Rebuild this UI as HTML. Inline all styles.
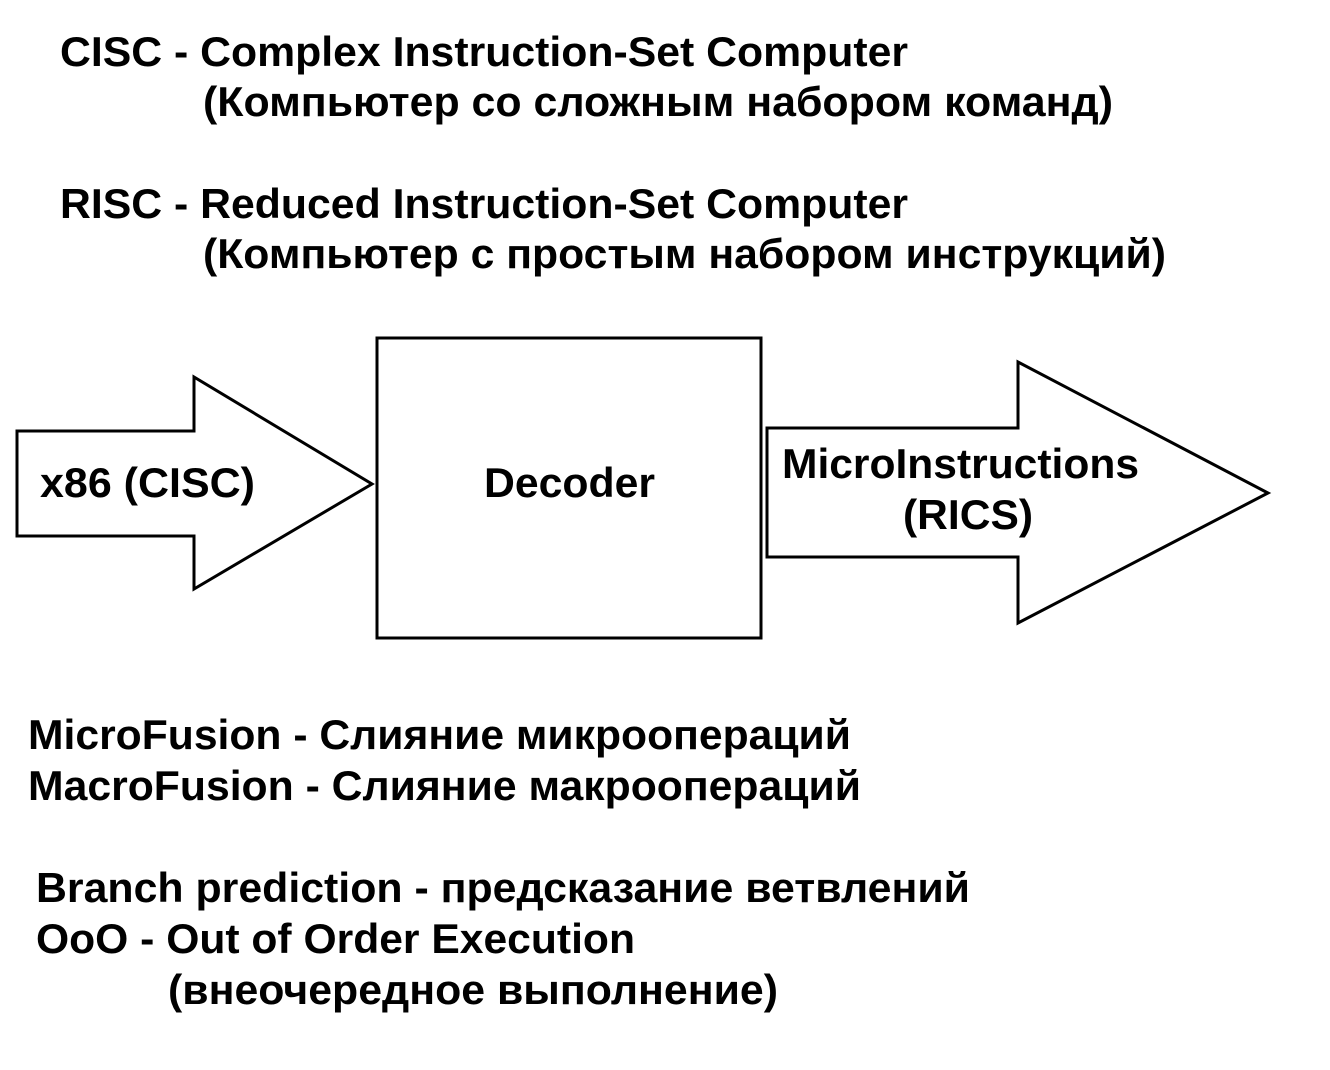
<!DOCTYPE html>
<html>
<head>
<meta charset="utf-8">
<style>
  html,body{margin:0;padding:0;background:#fff;}
  svg{display:block;}
  text{font-family:"Liberation Sans","DejaVu Sans",sans-serif;font-weight:bold;font-size:42px;fill:#000;}
</style>
</head>
<body>
<svg width="1330" height="1070" viewBox="0 0 1330 1070" xmlns="http://www.w3.org/2000/svg">
  <rect x="0" y="0" width="1330" height="1070" fill="#fff"/>

  <text x="60" y="66" textLength="848" lengthAdjust="spacingAndGlyphs">CISC - Complex Instruction-Set Computer</text>
  <text x="203" y="116" textLength="910" lengthAdjust="spacingAndGlyphs">(Компьютер со сложным набором команд)</text>
  <text x="60" y="218" textLength="848" lengthAdjust="spacingAndGlyphs">RISC - Reduced Instruction-Set Computer</text>
  <text x="203" y="268" textLength="963" lengthAdjust="spacingAndGlyphs">(Компьютер с простым набором инструкций)</text>

  <polygon points="17,431 194,431 194,377 372,484 194,589 194,536 17,536" fill="none" stroke="#000" stroke-width="3"/>
  <text x="40" y="497" textLength="215" lengthAdjust="spacingAndGlyphs">x86 (CISC)</text>

  <rect x="377" y="338" width="384" height="300" fill="none" stroke="#000" stroke-width="3"/>
  <text x="484" y="497" textLength="171" lengthAdjust="spacingAndGlyphs">Decoder</text>

  <polygon points="767,428 1018,428 1018,362 1268,493 1018,623 1018,557 767,557" fill="none" stroke="#000" stroke-width="3"/>
  <text x="782" y="478" textLength="357" lengthAdjust="spacingAndGlyphs">MicroInstructions</text>
  <text x="903" y="529" textLength="130" lengthAdjust="spacingAndGlyphs">(RICS)</text>

  <text x="28" y="749" textLength="823" lengthAdjust="spacingAndGlyphs">MicroFusion - Слияние микроопераций</text>
  <text x="28" y="800" textLength="833" lengthAdjust="spacingAndGlyphs">MacroFusion - Слияние макроопераций</text>
  <text x="36" y="902" textLength="934" lengthAdjust="spacingAndGlyphs">Branch prediction - предсказание ветвлений</text>
  <text x="36" y="953" textLength="599" lengthAdjust="spacingAndGlyphs">OoO - Out of Order Execution</text>
  <text x="168" y="1004" textLength="610" lengthAdjust="spacingAndGlyphs">(внеочередное выполнение)</text>
</svg>
</body>
</html>
